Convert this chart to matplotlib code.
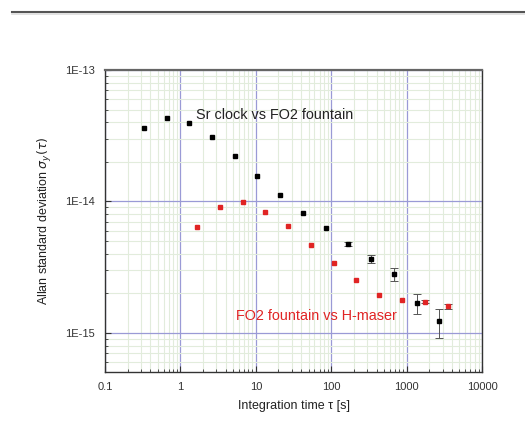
import matplotlib
matplotlib.use("Agg")
import matplotlib.pyplot as plt
from matplotlib.lines import Line2D
import numpy as np

# Sr clock vs FO2 fountain (black)
sr_tau = [0.327, 0.659, 1.31, 2.62, 5.27, 10.5, 21.2, 42.4, 84.4, 168, 339, 676, 1377, 2716]
sr_adev = [3.59e-14, 4.28e-14, 3.94e-14, 3.08e-14, 2.21e-14, 1.57e-14, 1.12e-14,
           8.2e-15, 6.3e-15, 4.75e-15, 3.67e-15, 2.79e-15, 1.69e-15, 1.23e-15]
sr_err_lo = [0, 0, 0, 0, 0, 0, 0, 0, 0, 0.2e-15, 0.27e-15, 0.30e-15, 0.29e-15, 0.32e-15]
sr_err_hi = [0, 0, 0, 0, 0, 0, 0, 0, 0, 0.2e-15, 0.27e-15, 0.34e-15, 0.28e-15, 0.30e-15]

# FO2 fountain vs H-maser (red)
fo2_tau = [1.68, 3.38, 6.73, 13.4, 27, 54, 108, 215, 433, 863, 1740, 3507]
fo2_adev = [6.37e-15, 9.05e-15, 9.9e-15, 8.34e-15, 6.45e-15, 4.67e-15, 3.42e-15,
            2.52e-15, 1.94e-15, 1.79e-15, 1.73e-15, 1.59e-15]
fo2_err = [0, 0, 0, 0, 0, 0, 0, 0, 0, 0, 0.05e-15, 0.08e-15]

x_ticks = [0.1, 1, 10, 100, 1000, 10000]
x_ticklabels = ["0.1", "1", "10", "100", "1000", "10000"]
y_ticks = [1e-15, 1e-14, 1e-13]
y_ticklabels = ["1E-15", "1E-14", "1E-13"]

plt.rcParams['font.family'] = ['Liberation Sans', 'DejaVu Sans']

fig = plt.figure(figsize=(5.25, 4.36), dpi=100)
ax = fig.add_axes([105/525, 1 - 372/436, (482 - 105)/525, (372 - 70)/436])
ax.set_xscale('log')
ax.set_yscale('log')
ax.set_xlim(0.1, 10000)
ax.set_ylim(5.03e-16, 1e-13)

ax.grid(True, which='minor', color='#e2ecdc', linewidth=0.8)
ax.grid(True, which='major', color='#9a9ad6', linewidth=0.9)
ax.set_axisbelow(True)

red = '#e02424'
err_kw = dict(fmt='none', ecolor='#555555', elinewidth=0.7, capsize=3, capthick=0.7)

# error bars only where an error is given
fi = [i for i, e in enumerate(fo2_err) if e > 0]
ax.errorbar([fo2_tau[i] for i in fi], [fo2_adev[i] for i in fi],
            yerr=[fo2_err[i] for i in fi], zorder=2.5, **err_kw)
si = [i for i in range(len(sr_tau)) if sr_err_lo[i] > 0 or sr_err_hi[i] > 0]
ax.errorbar([sr_tau[i] for i in si], [sr_adev[i] for i in si],
            yerr=[[sr_err_lo[i] for i in si], [sr_err_hi[i] for i in si]], zorder=2.5, **err_kw)

ax.plot(fo2_tau, fo2_adev, 's', color=red, ms=3.5, mec=red, linestyle='none', zorder=3)
ax.plot(sr_tau, sr_adev, 's', color='black', ms=3.5, linestyle='none', zorder=4)

ax.text(1.59, 4.54e-14, "Sr clock vs FO2 fountain", fontsize=10.4, color='#222222',
        ha='left', va='center')
ax.text(5.39, 1.35e-15, "FO2 fountain vs H-maser", fontsize=10.4, color=red,
        ha='left', va='center')

ax.set_xticks(x_ticks)
ax.set_xticklabels(x_ticklabels)
ax.set_yticks(y_ticks)
ax.set_yticklabels(y_ticklabels)
ax.tick_params(which='both', direction='in', labelsize=8, labelcolor='#333333',
               color='#333333', top=False, right=False)
ax.tick_params(which='major', length=4, pad=7)
ax.tick_params(which='minor', length=2.5)

for s in ax.spines.values():
    s.set_color('#333333')
    s.set_linewidth(1.0)
ax.spines['top'].set_color('#666666')
ax.spines['top'].set_linewidth(1.6)

ax.set_xlabel("Integration time \u03c4 [s]", fontsize=9, color='#222222', labelpad=6)
ax.set_ylabel("Allan standard deviation $\\sigma_y(\\tau)$", fontsize=9, color='#222222',
              labelpad=8)

fig.add_artist(Line2D([12/525, 1], [1 - 12.5/436, 1 - 12.5/436], color='#555555',
                      linewidth=1.5, transform=fig.transFigure))
fig.add_artist(Line2D([12/525, 1], [1 - 14.5/436, 1 - 14.5/436], color='#dddddd',
                      linewidth=1.2, transform=fig.transFigure))

fig.savefig("out.png", dpi=100)
